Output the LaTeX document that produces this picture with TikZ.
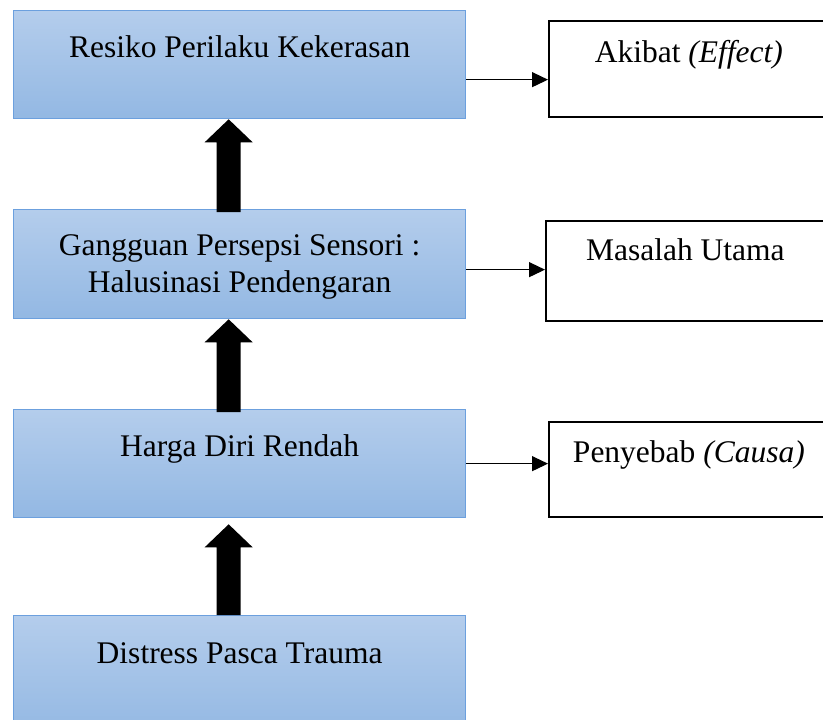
\documentclass[tikz,border=0pt]{standalone}
\usepackage{fontspec}
\setmainfont{Liberation Serif}
\usetikzlibrary{arrows.meta,calc}
\definecolor{boxtop}{RGB}{180,205,236}
\definecolor{boxbot}{RGB}{147,184,227}
\definecolor{boxline}{RGB}{108,160,222}
\tikzset{
  bluebox/.style={rectangle, anchor=north west, minimum width=452pt, top color=boxtop, bottom color=boxbot, draw=boxline, line width=1.3pt, inner sep=0pt},
  whitebox/.style={rectangle, anchor=north west, fill=white, draw=black, line width=1.8pt, inner sep=0pt},
  lbl/.style={anchor=base, font=\fontsize{31.5}{37}\selectfont, inner sep=0pt, align=center},
  conn/.style={line width=1.2pt, -{Triangle[length=16pt,width=15pt]}},
}
\newcommand\blkarrow[2]{%
  \fill[black] (#1) -- ([xshift=24pt,yshift=-23pt]#1) -- ([xshift=12pt,yshift=-23pt]#1)
    -- ([xshift=12pt]#2) -- ([xshift=-12pt]#2) -- ([xshift=-12pt,yshift=-23pt]#1)
    -- ([xshift=-24pt,yshift=-23pt]#1) -- cycle;}
\begin{document}
\begin{tikzpicture}[x=1pt,y=-1pt]
\useasboundingbox (0,0) rectangle (823,720);
\clip (0,0) rectangle (823,720);
% left boxes
\node[bluebox, minimum height=108pt] (b1) at (13,10) {};
\node[bluebox, minimum height=109pt] (b2) at (13,209) {};
\node[bluebox, minimum height=108pt] (b3) at (13,409) {};
\node[bluebox, minimum height=120pt] (b4) at (13,615) {};
\node[lbl] (t1) at ([yshift=-47pt]b1.north) {Resiko Perilaku Kekerasan};
\node[lbl, anchor=north] (t2) at ([yshift=-25.5pt]b2.north) {Gangguan Persepsi Sensori :\\Halusinasi Pendengaran};
\node[lbl] (t3) at ([yshift=-47pt]b3.north) {Harga Diri Rendah};
\node[lbl] (t4) at ([yshift=-48pt]b4.north) {Distress Pasca Trauma};
% right boxes
\node[whitebox, minimum width=282pt, minimum height=96pt] (r1) at (548,20) {};
\node[whitebox, minimum width=285pt, minimum height=100pt] (r2) at (545,220) {};
\node[whitebox, minimum width=282pt, minimum height=95pt] (r3) at (548,421) {};
\node[lbl] (u1) at ([xshift=-1pt,yshift=-42pt]r1.north) {Akibat \textit{(Effect)}};
\node[lbl] (u2) at ([xshift=-3pt,yshift=-40pt]r2.north) {Masalah Utama};
\node[lbl] (u3) at ([xshift=-1pt,yshift=-41pt]r3.north) {Penyebab \textit{(Causa)}};
% connectors
\coordinate (c1) at ([yshift=-15pt]b1.east);
\coordinate (c2) at ([yshift=-5.5pt]b2.east);
\coordinate (c3) at (b3.east);
\draw[conn] (c1) -- (c1 -| r1.west);
\draw[conn] (c2) -- (c2 -| r2.west);
\draw[conn] (c3) -- (c3 -| r3.west);
% block arrows
\coordinate (a1t) at ([xshift=-11pt]b1.south);
\coordinate (a1b) at ([xshift=-11pt,yshift=-3pt]b2.north);
\coordinate (a2t) at ([xshift=-11pt]b2.south);
\coordinate (a2b) at ([xshift=-11pt,yshift=-3pt]b3.north);
\coordinate (a3t) at ([xshift=-11pt,yshift=-6pt]b3.south);
\coordinate (a3b) at ([xshift=-11pt]b4.north);
\blkarrow{a1t}{a1b}
\blkarrow{a2t}{a2b}
\blkarrow{a3t}{a3b}
\end{tikzpicture}
\end{document}
